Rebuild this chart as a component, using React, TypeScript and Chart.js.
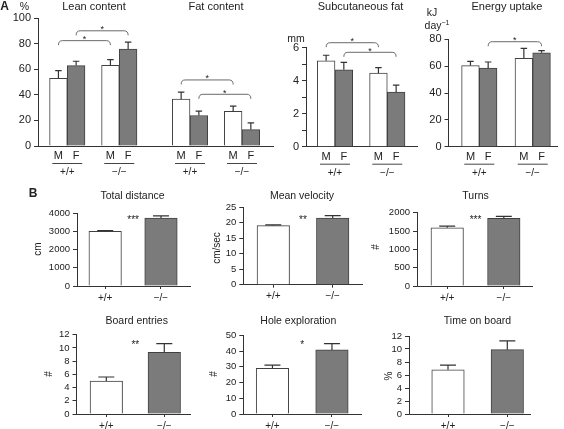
import React, { useEffect, useRef } from "react";
import { Chart, registerables } from "chart.js";

Chart.register(...registerables);

const FONT = "'Liberation Sans', Arial, Helvetica, sans-serif";
Chart.defaults.font.family = FONT;
Chart.defaults.color = "#222";

// ---------- data ----------
const GENOTYPES = ["+/+", "\u2212/\u2212"];
const SEXES = ["M", "F"];

// Panel A (values per genotype: +/+, -/-)
const LEAN_M = [52.9, 63.1];
const LEAN_M_ERR = [6.0, 4.4];
const LEAN_F = [62.8, 75.7];
const LEAN_F_ERR = [3.4, 5.5];
const FAT_M = [36.6, 27.0];
const FAT_M_ERR = [5.5, 4.2];
const FAT_F = [23.8, 12.8];
const FAT_F_ERR = [3.4, 5.3];
const SUBQ_M = [5.2, 4.45];
const SUBQ_M_ERR = [0.33, 0.33];
const SUBQ_F = [4.65, 3.3];
const SUBQ_F_ERR = [0.45, 0.42];
const ENERGY_M = [60.4, 65.8];
const ENERGY_M_ERR = [3.2, 7.5];
const ENERGY_F = [58.6, 70.0];
const ENERGY_F_ERR = [4.5, 1.6];

// Panel B
const DISTANCE = [2990, 3720];
const DISTANCE_ERR = [50, 120];
const VELOCITY = [19.0, 21.4];
const VELOCITY_ERR = [0.25, 0.8];
const TURNS = [1590, 1845];
const TURNS_ERR = [45, 55];
const BOARD = [5.0, 9.35];
const BOARD_ERR = [0.6, 1.3];
const HOLE = [29.0, 40.7];
const HOLE_ERR = [2.1, 4.0];
const TIME_BOARD = [6.8, 9.9];
const TIME_BOARD_ERR = [0.72, 1.35];

// significance brackets: series index, from group, to group, level (y units)
const LEAN_FAT_BRACKETS = [
  { series: 0, from: 0, to: 1, level: 82.3, label: "*" },
  { series: 1, from: 0, to: 1, level: 90, label: "*" },
  { series: 0, from: 2, to: 3, level: 51.6, label: "*" },
  { series: 1, from: 2, to: 3, level: 40.4, label: "*" },
];
const SUBQ_BRACKETS = [
  { series: 0, from: 0, to: 1, level: 6.29, label: "*" },
  { series: 1, from: 0, to: 1, level: 5.71, label: "*" },
];
const ENERGY_BRACKETS = [{ series: 1, from: 0, to: 1, level: 78.2, label: "*" }];

// ---------- styles ----------
const WHITE = "#ffffff";
const GRAY = "#7b7b7b";
const EDGE = "#404040";
const INK = "#222222";

type Series = { values: number[]; errors: number[]; color: string | string[] };
type Bracket = { series: number; from: number; to: number; level: number; label: string };
type Spec = {
  left: number; right: number; top: number; bottom: number;
  xMin: number; xMax: number;
  yMax: number; yStep: number; labelEvery: number; tickFont: number;
  barW: number; capW: number;
  groupPos: number[];
  series: Series[];
  brackets?: Bracket[];
  sexLabels?: string[];
  groupLabels?: string[];
  xLabels?: string[];
  star?: { label: string; level: number };
};

function ChartBox({ spec }: { spec: Spec }) {
  const ref = useRef<HTMLCanvasElement>(null);
  const YW = 44, XH = 36, PT = 14, PR = 8;
  const cLeft = Math.floor(spec.left) - YW;
  const cTop = Math.floor(spec.top) - PT;
  const cW = Math.ceil(spec.right) - cLeft + PR;
  const cH = Math.ceil(spec.bottom) - cTop + XH;
  const yWidth = spec.left - cLeft;
  const padTop = spec.top - cTop;
  const padRight = cW - (spec.right - cLeft);
  const xHeight = cH - (spec.bottom - cTop);

  useEffect(() => {
    const overlay = {
      id: "overlay",
      afterDatasetsDraw(chart: any) {
        const ctx = chart.ctx;
        const ys = chart.scales.y;
        const area = chart.chartArea;
        ctx.save();
        // error bars
        spec.series.forEach((s, di) => {
          const meta = chart.getDatasetMeta(di);
          meta.data.forEach((el: any, j: number) => {
            const yE = ys.getPixelForValue(s.values[j] + s.errors[j]);
            ctx.strokeStyle = "#333";
            ctx.lineWidth = 1.2;
            ctx.beginPath();
            ctx.moveTo(el.x, el.y);
            ctx.lineTo(el.x, yE);
            ctx.moveTo(el.x - spec.capW / 2, yE);
            ctx.lineTo(el.x + spec.capW / 2, yE);
            ctx.stroke();
          });
        });
        // brackets
        (spec.brackets || []).forEach((b) => {
          const meta = chart.getDatasetMeta(b.series);
          const x1 = meta.data[b.from].x;
          const x2 = meta.data[b.to].x;
          const y = ys.getPixelForValue(b.level);
          ctx.strokeStyle = "#6a6a6a";
          ctx.lineWidth = 1;
          ctx.beginPath();
          ctx.moveTo(x1, y + 4.5);
          ctx.quadraticCurveTo(x1, y, x1 + 4, y);
          ctx.lineTo(x2 - 4, y);
          ctx.quadraticCurveTo(x2, y, x2, y + 4.5);
          ctx.stroke();
          ctx.fillStyle = INK;
          ctx.font = `9px ${FONT}`;
          ctx.textAlign = "center";
          ctx.textBaseline = "alphabetic";
          ctx.fillText(b.label, (x1 + x2) / 2, y - 4 + 0.58 * 9);
        });
        // star between the two bars (panel B)
        if (spec.star) {
          const meta = chart.getDatasetMeta(0);
          const xm = (meta.data[0].x + meta.data[1].x) / 2;
          const y = ys.getPixelForValue(spec.star.level);
          ctx.fillStyle = INK;
          ctx.font = `10px ${FONT}`;
          ctx.textAlign = "center";
          ctx.textBaseline = "alphabetic";
          ctx.fillText(spec.star.label, xm, y + 0.58 * 10);
        }
        // sex and genotype labels (panel A)
        if (spec.sexLabels && spec.groupLabels) {
          const b = area.bottom;
          ctx.fillStyle = INK;
          ctx.textAlign = "center";
          ctx.textBaseline = "middle";
          spec.groupLabels.forEach((g, gi) => {
            const xs: number[] = [];
            spec.series.forEach((s, di) => {
              const el = chart.getDatasetMeta(di).data[gi];
              xs.push(el.x);
              ctx.font = `11px ${FONT}`;
              ctx.fillText(spec.sexLabels![di], el.x, b + 10);
            });
            const xc = (xs[0] + xs[xs.length - 1]) / 2;
            ctx.strokeStyle = "#444";
            ctx.lineWidth = 1;
            ctx.beginPath();
            ctx.moveTo(xc - 15, b + 17.5);
            ctx.lineTo(xc + 15, b + 17.5);
            ctx.stroke();
            ctx.font = `10px ${FONT}`;
            ctx.fillText(g, xc, b + 26.5);
          });
        }
        ctx.restore();
      },
    };

    const datasets = spec.series.map((s) => ({
      data: s.values.map((v, i) => ({ x: spec.groupPos[i], y: v })),
      backgroundColor: s.color,
      borderColor: EDGE,
      borderWidth: 1,
      barThickness: spec.barW,
    }));

    const chart = new Chart(ref.current as HTMLCanvasElement, {
      type: "bar",
      data: { datasets: datasets as any },
      plugins: [overlay],
      options: {
        animation: false,
        responsive: false,
        maintainAspectRatio: false,
        layout: { padding: { top: padTop, right: padRight, left: 0, bottom: 0 } },
        plugins: { legend: { display: false }, tooltip: { enabled: false }, title: { display: false } },
        scales: {
          x: {
            type: "linear",
            min: spec.xMin,
            max: spec.xMax,
            bounds: "data",
            offset: false,
            z: 1,
            grid: {
              display: !!spec.xLabels,
              drawOnChartArea: false,
              drawTicks: true,
              tickLength: 3,
              offset: false,
              color: "#333",
            },
            border: { display: true, color: "#333", width: 1 },
            ticks: {
              display: !!spec.xLabels,
              font: { size: 10 },
              color: INK,
              padding: 3,
              autoSkip: false,
              maxRotation: 0,
              callback: (v: any) => (spec.xLabels ? spec.xLabels[Math.round(v)] : ""),
            },
            afterBuildTicks: (scale: any) => {
              scale.ticks = spec.groupPos.map((p) => ({ value: p }));
            },
            afterFit: (scale: any) => {
              scale.height = xHeight;
            },
          },
          y: {
            type: "linear",
            min: 0,
            max: spec.yMax,
            grid: {
              display: true,
              drawOnChartArea: false,
              drawTicks: true,
              tickLength: 4,
              color: "#333",
            },
            border: { display: true, color: "#333", width: 1 },
            ticks: {
              stepSize: spec.yStep,
              autoSkip: false,
              padding: 3,
              font: { size: spec.tickFont },
              color: INK,
              callback: (v: any) =>
                Math.abs(v / spec.labelEvery - Math.round(v / spec.labelEvery)) < 1e-6 ? String(v) : "",
            },
            afterFit: (scale: any) => {
              scale.width = yWidth;
            },
          },
        },
      } as any,
    });
    return () => chart.destroy();
  }, []);

  return (
    <canvas
      ref={ref}
      width={cW}
      height={cH}
      style={{ position: "absolute", left: cLeft, top: cTop, width: cW, height: cH }}
    />
  );
}

function Label({
  x, y, text, size = 11, bold = false, rotate = false,
}: { x: number; y: number; text: React.ReactNode; size?: number; bold?: boolean; rotate?: boolean }) {
  return (
    <div
      style={{
        position: "absolute",
        left: x,
        top: y,
        transform: `translate(-50%, -50%)${rotate ? " rotate(-90deg)" : ""}`,
        fontSize: size,
        fontWeight: bold ? 700 : 400,
        lineHeight: 1,
        whiteSpace: "nowrap",
        color: INK,
        fontFamily: FONT,
      }}
    >
      {text}
    </div>
  );
}

const A_BAR = 17.7;
const A_CAP = 6.5;
const B_BAR = 32.5;
const B_CAP = 16;

const specs: Spec[] = [
  {
    left: 38, right: 273, top: 18, bottom: 146, xMin: -0.563, xMax: 3.956,
    yMax: 100, yStep: 20, labelEvery: 20, tickFont: 11, barW: A_BAR, capW: A_CAP,
    groupPos: [0, 1, 2.36, 3.36],
    series: [
      { values: [...LEAN_M, ...FAT_M], errors: [...LEAN_M_ERR, ...FAT_M_ERR], color: WHITE },
      { values: [...LEAN_F, ...FAT_F], errors: [...LEAN_F_ERR, ...FAT_F_ERR], color: GRAY },
    ],
    brackets: LEAN_FAT_BRACKETS, sexLabels: SEXES, groupLabels: [...GENOTYPES, ...GENOTYPES],
  },
  {
    left: 306, right: 417, top: 47.5, bottom: 146.7, xMin: -0.554, xMax: 1.568,
    yMax: 6, yStep: 1, labelEvery: 2, tickFont: 11, barW: A_BAR, capW: A_CAP,
    groupPos: [0, 1],
    series: [
      { values: SUBQ_M, errors: SUBQ_M_ERR, color: WHITE },
      { values: SUBQ_F, errors: SUBQ_F_ERR, color: GRAY },
    ],
    brackets: SUBQ_BRACKETS, sexLabels: SEXES, groupLabels: GENOTYPES,
  },
  {
    left: 448.5, right: 557, top: 39.3, bottom: 146.7, xMin: -0.577, xMax: 1.455,
    yMax: 80, yStep: 20, labelEvery: 20, tickFont: 11, barW: A_BAR, capW: A_CAP,
    groupPos: [0, 1],
    series: [
      { values: ENERGY_M, errors: ENERGY_M_ERR, color: WHITE },
      { values: ENERGY_F, errors: ENERGY_F_ERR, color: GRAY },
    ],
    brackets: ENERGY_BRACKETS, sexLabels: SEXES, groupLabels: GENOTYPES,
  },
  {
    left: 77, right: 190, top: 213, bottom: 286, xMin: -0.505, xMax: 1.52,
    yMax: 4000, yStep: 1000, labelEvery: 1000, tickFont: 9.5, barW: B_BAR, capW: B_CAP,
    groupPos: [0, 1], xLabels: GENOTYPES,
    series: [{ values: DISTANCE, errors: DISTANCE_ERR, color: [WHITE, GRAY] }],
    star: { label: "***", level: 3760 },
  },
  {
    left: 243.3, right: 362.7, top: 207, bottom: 284.7, xMin: -0.505, xMax: 1.505,
    yMax: 25, yStep: 5, labelEvery: 5, tickFont: 9.5, barW: B_BAR, capW: B_CAP,
    groupPos: [0, 1], xLabels: GENOTYPES,
    series: [{ values: VELOCITY, errors: VELOCITY_ERR, color: [WHITE, GRAY] }],
    star: { label: "**", level: 21.6 },
  },
  {
    left: 417, right: 532, top: 212.7, bottom: 286, xMin: -0.534, xMax: 1.498,
    yMax: 2000, yStep: 500, labelEvery: 500, tickFont: 9.5, barW: B_BAR, capW: B_CAP,
    groupPos: [0, 1], xLabels: GENOTYPES,
    series: [{ values: TURNS, errors: TURNS_ERR, color: [WHITE, GRAY] }],
    star: { label: "***", level: 1868 },
  },
  {
    left: 76.5, right: 190.5, top: 334.7, bottom: 414, xMin: -0.514, xMax: 1.452,
    yMax: 12, yStep: 2, labelEvery: 2, tickFont: 9.5, barW: B_BAR, capW: B_CAP,
    groupPos: [0, 1], xLabels: GENOTYPES,
    series: [{ values: BOARD, errors: BOARD_ERR, color: [WHITE, GRAY] }],
    star: { label: "**", level: 10.9 },
  },
  {
    left: 243.3, right: 361.7, top: 335.3, bottom: 414, xMin: -0.49, xMax: 1.5,
    yMax: 50, yStep: 10, labelEvery: 10, tickFont: 9.5, barW: B_BAR, capW: B_CAP,
    groupPos: [0, 1], xLabels: GENOTYPES,
    series: [{ values: HOLE, errors: HOLE_ERR, color: [WHITE, GRAY] }],
    star: { label: "*", level: 45.8 },
  },
  {
    left: 409, right: 530, top: 336, bottom: 414, xMin: -0.658, xMax: 1.383,
    yMax: 12, yStep: 2, labelEvery: 2, tickFont: 9.5, barW: B_BAR, capW: B_CAP,
    groupPos: [0, 1], xLabels: GENOTYPES,
    series: [{ values: TIME_BOARD, errors: TIME_BOARD_ERR, color: [WHITE, GRAY] }],
  },
];

export default function App() {
  return (
    <div
      style={{
        position: "fixed",
        left: 0,
        top: 0,
        width: 564,
        height: 429,
        background: "#fff",
        overflow: "hidden",
        fontFamily: FONT,
      }}
    >
      {specs.map((s, i) => (
        <ChartBox key={i} spec={s} />
      ))}
      {/* Panel A texts */}
      <Label x={4.5} y={5.5} text="A" size={12} bold />
      <Label x={24.5} y={6} text="%" size={10.5} />
      <Label x={94} y={5.5} text="Lean content" size={11} />
      <Label x={216} y={5.5} text="Fat content" size={11} />
      <Label x={360.5} y={5.5} text="Subcutaneous fat" size={11} />
      <Label x={507} y={5.5} text="Energy uptake" size={11} />
      <Label x={296} y={38} text="mm" size={10.5} />
      <Label x={432} y={11.5} text="kJ" size={10.5} />
      <Label
        x={437}
        y={25}
        size={10.5}
        text={
          <span>
            day<span style={{ fontSize: 7, position: "relative", top: -4 }}>{"\u22121"}</span>
          </span>
        }
      />
      {/* Panel B texts */}
      <Label x={33} y={193} text="B" size={12} bold />
      <Label x={132.5} y={194.5} text="Total distance" size={10.5} />
      <Label x={302} y={194.5} text="Mean velocity" size={10.5} />
      <Label x={475.5} y={194.5} text="Turns" size={10.5} />
      <Label x={136.7} y={319.5} text="Board entries" size={10.5} />
      <Label x={298.3} y={319.5} text="Hole exploration" size={10.5} />
      <Label x={477.5} y={319.5} text="Time on board" size={10.5} />
      <Label x={37.5} y={249} text="cm" size={10} rotate />
      <Label x={217} y={247.5} text="cm/sec" size={10} rotate />
      <Label x={376} y={247} text="#" size={10} rotate />
      <Label x={48.7} y={373.5} text="#" size={10} rotate />
      <Label x={213.5} y={373.5} text="#" size={10} rotate />
      <Label x={389} y={376} text="%" size={10} rotate />
    </div>
  );
}
